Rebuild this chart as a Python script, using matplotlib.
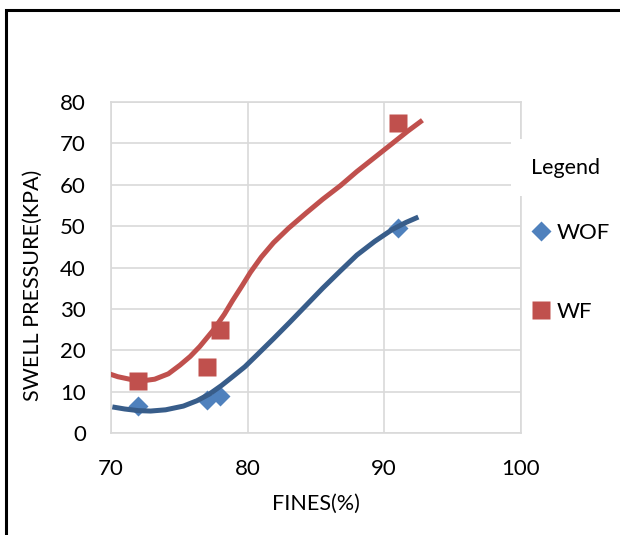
import matplotlib
matplotlib.use("Agg")
import matplotlib.pyplot as plt
from matplotlib.lines import Line2D
from matplotlib.patches import Rectangle

plt.rcParams["font.family"] = ["Lato", "DejaVu Sans"]

# measured points
fines = [72, 77, 78, 91]
wof = [6.5, 8, 9, 49.5]
wf = [12.5, 16, 25, 75]

# trend curves
wof_curve_x = [70.1, 71.0, 72.0, 72.9, 74.0, 75.3, 76.3, 77.2, 78.1, 78.9, 79.8, 80.7,
               81.9, 83.1, 84.3, 85.5, 86.8, 88.0, 89.3, 90.6, 91.6, 92.5]
wof_curve_y = [6.3, 5.8, 5.4, 5.3, 5.6, 6.5, 7.8, 9.4, 11.5, 13.6, 16.0, 18.9,
               22.8, 26.8, 30.9, 35.0, 39.2, 43.0, 46.3, 49.2, 50.9, 52.2]
wf_curve_x = [69.6, 70.5, 71.5, 72.3, 73.2, 74.2, 75.05, 75.8, 76.5, 77.5, 78.3, 78.9,
              79.6, 80.2, 81.0, 81.9, 83.0, 84.3, 85.5, 86.8, 88.0, 89.3, 90.6, 91.7, 92.8]
wf_curve_y = [14.6, 13.6, 12.9, 12.6, 13.0, 14.3, 16.4, 18.5, 20.9, 24.9, 28.7, 32.0,
              35.6, 38.8, 42.5, 46.0, 49.5, 53.2, 56.5, 59.8, 63.2, 66.6, 70.0, 72.9, 75.6]

red = "#C0504D"
blue = "#4F81BD"
blue_line = "#385D8A"

fig = plt.figure(figsize=(6.2, 5.35), dpi=100)
ax = fig.add_axes([0.179, 0.1907, 0.661, 0.6186])

ax.plot(wof_curve_x, wof_curve_y, color=blue_line, lw=3.6, solid_capstyle="butt",
        solid_joinstyle="round", zorder=3)
ax.plot(wf_curve_x, wf_curve_y, color=red, lw=3.6, solid_capstyle="butt",
        solid_joinstyle="round", zorder=3)
ax.plot(fines, wof, "D", color=blue, ms=9.7, mec="none", zorder=2)
ax.plot(fines, wf, "s", color=red, ms=13, mec="none", zorder=2)

ax.set_xlim(70, 100)
ax.set_ylim(0, 80)
ax.set_xticks([70, 80, 90, 100])
ax.set_yticks(range(0, 81, 10))
ax.grid(True, color="#D9D9D9", lw=1.2)
ax.set_axisbelow(True)
for s in ax.spines.values():
    s.set_color("#D9D9D9")
    s.set_linewidth(1.2)
ax.tick_params(length=0, labelsize=16)
ax.tick_params(axis="y", pad=18)
ax.tick_params(axis="x", pad=19)
ax.set_xlabel("FINES(%)", fontsize=15.5)
ax.set_ylabel("SWELL PRESSURE(KPA)", fontsize=15.5)
ax.xaxis.set_label_coords(0.5, -(494 - 433) / 331)
ax.yaxis.set_label_coords((43 - 111) / 410, (433 - 285) / 331)

# white box behind the legend title, covering the grid edge
fig.patches.append(Rectangle((511 / 620, (535 - 196) / 535), 90 / 620, 57 / 535,
                             transform=fig.transFigure, facecolor="white",
                             edgecolor="none", zorder=1))
fig.text(531 / 620, 1 - 168 / 535, "Legend", fontsize=15.5, va="center", ha="left")

handles = [Line2D([], [], ls="none", marker="D", color=blue, ms=10, mec="none"),
           Line2D([], [], ls="none", marker="s", color=red, ms=12.5, mec="none")]
fig.legend(handles, ["WOF", "WF"], loc="upper left",
           bbox_to_anchor=(508 / 620, 1 - 203 / 535), frameon=False,
           fontsize=16, labelspacing=2.65, handletextpad=0.1, handlelength=1.2)

# outer frame
fig.patches.append(Rectangle((6 / 620, -0.1), 1.2, 1.1 - 10 / 535,
                             transform=fig.transFigure, facecolor="none",
                             edgecolor="black", lw=2.2, zorder=5, clip_on=False))

fig.savefig("out.png", dpi=100)
